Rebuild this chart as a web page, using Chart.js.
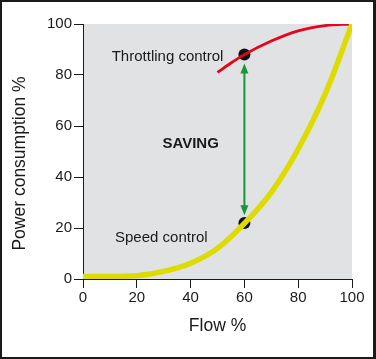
<!DOCTYPE html>
<html><head><meta charset="utf-8">
<script src="https://cdn.jsdelivr.net/npm/chart.js@4/dist/chart.umd.min.js"></script>
<style>
html,body{margin:0;padding:0;background:#fff;}
#wrap{position:absolute;left:0;top:0;width:376px;height:359px;box-sizing:border-box;border:2px solid #1a1a1a;border-right-width:3px;border-bottom-width:2px;}
canvas{display:block;}
</style></head><body>
<div id="wrap"><canvas id="c" width="371" height="355"></canvas></div>
<script>
const xTicks = [0, 20, 40, 60, 80, 100];
const yTicks = [0, 20, 40, 60, 80, 100];
const speedFlow = [0, 10, 20, 30, 40, 50, 60, 70, 80, 90, 100];
const speedPower = [1, 1, 1.3, 3, 6.2, 12, 21.8, 34, 51, 72.5, 100];
const throttleFlow = [50, 55, 60, 70, 80, 90, 100];
const throttlePower = [81, 84.7, 88, 93.3, 97.3, 99.4, 100];
const pointFlow = [60, 60];
const pointPower = [88, 22];
const arrowFlow = 60;
const arrowFrom = 84.5;
const arrowTo = 25;
const xTitle = 'Flow %';
const yTitle = 'Power consumption %';
const labels = [
  {text: 'Throttling control', x: 52.2, y: 87, align: 'right', bold: false},
  {text: 'SAVING', x: 40, y: 53, align: 'center', bold: true},
  {text: 'Speed control', x: 11.9, y: 16, align: 'left', bold: false}
];

const FONT = '"Liberation Sans", Arial, Helvetica, sans-serif';
const toXY = (xs, ys) => xs.map((x, i) => ({x, y: ys[i]}));

const bgPlugin = {
  id: 'bg',
  beforeDraw(chart) {
    const {ctx, chartArea: a} = chart;
    ctx.save();
    ctx.fillStyle = '#e1e2e4';
    ctx.fillRect(a.left, a.top, a.right - a.left, a.bottom - a.top);
    ctx.restore();
  }
};

const annoPlugin = {
  id: 'anno',
  afterDraw(chart) {
    const {ctx, chartArea: a} = chart;
    ctx.save();
    ctx.fillStyle = '#1a1a1a';
    ctx.font = '17.5px ' + FONT;
    ctx.textAlign = 'center';
    ctx.textBaseline = 'middle';
    ctx.translate(18, (a.top + a.bottom) / 2 + 12);
    ctx.rotate(-Math.PI / 2);
    ctx.fillText(yTitle, 0, 0);
    ctx.restore();
  },
  afterDatasetsDraw(chart) {
    const {ctx, scales: {x, y}} = chart;
    ctx.save();
    const ax = x.getPixelForValue(arrowFlow);
    const y1 = y.getPixelForValue(arrowFrom);
    const y2 = y.getPixelForValue(arrowTo);
    ctx.strokeStyle = '#16973a';
    ctx.fillStyle = '#16973a';
    ctx.lineWidth = 2;
    ctx.beginPath();
    ctx.moveTo(ax, y1 + 8);
    ctx.lineTo(ax, y2 - 8);
    ctx.stroke();
    ctx.beginPath();
    ctx.moveTo(ax, y1); ctx.lineTo(ax - 4, y1 + 10); ctx.lineTo(ax + 4, y1 + 10); ctx.closePath(); ctx.fill();
    ctx.beginPath();
    ctx.moveTo(ax, y2); ctx.lineTo(ax - 4, y2 - 10); ctx.lineTo(ax + 4, y2 - 10); ctx.closePath(); ctx.fill();
    ctx.fillStyle = '#1a1a1a';
    ctx.textBaseline = 'middle';
    labels.forEach(l => {
      ctx.font = (l.bold ? 'bold ' : '') + '15px ' + FONT;
      ctx.textAlign = l.align;
      ctx.fillText(l.text, x.getPixelForValue(l.x), y.getPixelForValue(l.y));
    });
    ctx.restore();
  }
};

new Chart(document.getElementById('c'), {
  type: 'scatter',
  data: {
    datasets: [
      {
        data: toXY(speedFlow, speedPower),
        showLine: true,
        borderColor: '#dedb00',
        borderWidth: 5.5,
        pointRadius: 0,
        cubicInterpolationMode: 'monotone',
        fill: false
      },
      {
        data: toXY(throttleFlow, throttlePower),
        showLine: true,
        borderColor: '#e3061c',
        borderWidth: 2.8,
        pointRadius: 0,
        cubicInterpolationMode: 'monotone',
        fill: false
      },
      {
        data: toXY(pointFlow, pointPower),
        showLine: false,
        pointRadius: 6,
        pointBackgroundColor: '#111',
        pointBorderColor: '#111',
        pointBorderWidth: 0
      }
    ]
  },
  options: {
    responsive: false,
    animation: false,
    events: [],
    layout: {padding: {left: 0, right: 21, top: 22, bottom: 0}},
    plugins: {legend: {display: false}, tooltip: {enabled: false}},
    scales: {
      x: {
        type: 'linear', min: 0, max: 100,
        afterFit(s) { s.height = 78; },
        afterBuildTicks(s) { s.ticks = xTicks.map(v => ({value: v})); },
        grid: {drawOnChartArea: false, drawTicks: true, tickLength: 9, color: '#1a1a1a', tickWidth: 1},
        border: {display: true, color: '#1a1a1a', width: 1},
        ticks: {color: '#1a1a1a', font: {family: FONT, size: 15}, padding: 1, maxRotation: 0},
        title: {display: true, text: xTitle, color: '#1a1a1a', font: {family: FONT, size: 17.5}, padding: {top: 0, bottom: 20}}
      },
      y: {
        type: 'linear', min: 0, max: 100,
        afterFit(s) { s.width = 81; },
        afterBuildTicks(s) { s.ticks = yTicks.map(v => ({value: v})); },
        grid: {drawOnChartArea: false, drawTicks: true, tickLength: 9, color: '#1a1a1a', tickWidth: 1},
        border: {display: true, color: '#1a1a1a', width: 1},
        ticks: {color: '#1a1a1a', font: {family: FONT, size: 15}, padding: 2},
        title: {display: false}
      }
    }
  },
  plugins: [bgPlugin, annoPlugin]
});
</script>
</body></html>
